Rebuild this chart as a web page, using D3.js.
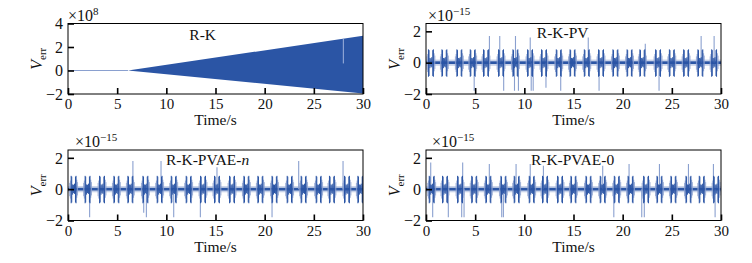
<!DOCTYPE html>
<html>
<head>
<meta charset="utf-8">
<script src="https://cdn.jsdelivr.net/npm/d3@7.9.0/dist/d3.min.js"></script>
<style>
  body { margin: 0; background: #fff; }
  svg text { font-family: 'Liberation Serif', 'Times New Roman', serif; fill: #111; }
</style>
</head>
<body>
<svg id="chart" width="752" height="263"></svg>
<script>
// ---- data ----
const timeTicks = [0, 5, 10, 15, 20, 25, 30];

// R-K: error grows as a dense oscillation; envelope only
const rkTimes = [0, 6.1, 30];
const rkUpper = [0, 0, 2.95];
const rkLower = [0, 0, -1.95];
const rkStreak = [28.0, 0.6, 2.7]; // time, low, high of the pale streak

// burst centres (s) for the three corrected methods
const pvBursts = [0.5, 1.87, 3.39, 4.75, 6.1, 7.63, 9.09, 10.58, 12.0, 13.5, 14.9, 16.35, 17.8, 19.26, 20.7, 22.0, 23.6, 25.0, 26.45, 27.9, 29.3];
const pvaenBursts = [0.57, 1.99, 3.46, 4.92, 6.34, 7.87, 9.32, 10.75, 12.27, 13.73, 15.15, 16.68, 18.14, 19.56, 21.0, 22.54, 23.96, 25.49, 26.84, 28.37, 29.73];
const pvae0Bursts = [0.58, 1.93, 3.46, 4.9, 6.34, 7.87, 9.22, 10.75, 12.1, 13.63, 14.99, 16.52, 17.97, 19.4, 20.8, 22.38, 23.74, 25.16, 26.69, 28.04, 29.5];

// isolated spikes [time, value]
const pvSpikes = [[4.9, -1.8], [6.45, 1.7], [7.5, 1.7], [7.9, -1.8], [9.0, -1.8], [9.1, 1.7], [9.4, -1.8], [10.6, 1.6], [10.7, -1.8], [10.9, -1.8], [12.2, -1.6], [13.7, -1.8], [16.5, 1.6], [17.6, -1.8], [22.3, 1.2], [23.7, -1.8], [27.98, 1.7], [29.3, 1.7]];
const pvaenSpikes = [[2.2, -1.8], [6.6, 1.8], [7.7, -1.5], [7.97, -1.8], [9.46, 1.8], [10.75, -1.8], [13.46, -1.8], [15.15, 1.4], [20.75, -1.8], [23.46, 1.8], [27.97, 1.8]];
const pvae0Spikes = [[0.48, 1.7], [0.68, -1.8], [2.27, -1.8], [3.63, -1.8], [3.73, 1.7], [3.87, -1.8], [6.44, 1.6], [7.7, -1.8], [7.87, -1.8], [9.16, 1.6], [10.6, 1.6], [11.94, 1.5], [17.97, 1.5], [19.1, -1.8], [20.65, 1.6], [21.94, -1.8], [22.2, -1.8], [23.74, 1.6], [26.69, 1.6], [29.23, 1.6], [29.4, -1.8]];

// shape of one burst: [offset s, low, high] – two dark bars with a little ringing between
const burstShape = [[-0.25, -0.9, 0.85], [-0.19, -0.85, 0.8], [-0.1, -0.35, 0.3], [0.0, -0.25, 0.28], [0.09, -0.3, 0.35], [0.19, -0.85, 0.8], [0.25, -0.9, 0.85]];
const fringeShape = [[-0.4, -0.45, 0.4], [-0.33, -0.6, 0.55], [0.33, -0.55, 0.6], [0.4, -0.4, 0.45]];
const noiseDark = 0.085;
const noiseLight = 0.2;

// ---- layout ----
const dark = '#2b55a5';
const pale = '#8aa0cf';

const panels = [
  { title: 'R-K', italic: null, left: 68, right: 363, top: 23.5, bottom: 94, yDomain: [-2, 4], yTicks: [-2, 0, 2, 4], exp: '8', expDx: 0, expY: 21, titleT: 13.7, titleY: 40 },
  { title: 'R-K-PV', italic: null, left: 426, right: 721, top: 23.5, bottom: 94, yDomain: [-2, 2.5], yTicks: [-2, 0, 2], exp: '−15', expDx: 2, expY: 21, titleT: 13.9, titleY: 38, bursts: pvBursts, spikes: pvSpikes },
  { title: 'R-K-PVAE-', italic: 'n', left: 68, right: 363, top: 150, bottom: 220.5, yDomain: [-2, 2.5], yTicks: [-2, 0, 2], exp: '−15', expDx: 7, expY: 147, titleT: 14.2, titleY: 165, bursts: pvaenBursts, spikes: pvaenSpikes },
  { title: 'R-K-PVAE-0', italic: null, left: 426, right: 721, top: 150, bottom: 220.5, yDomain: [-2, 2.5], yTicks: [-2, 0, 2], exp: '−15', expDx: 6, expY: 147, titleT: 14.9, titleY: 165, bursts: pvae0Bursts, spikes: pvae0Spikes },
];

const svg = d3.select('#chart');

panels.forEach((p, i) => {
  const x = d3.scaleLinear().domain([0, 30]).range([p.left, p.right]);
  const y = d3.scaleLinear().domain(p.yDomain).range([p.bottom, p.top]);
  const g = svg.append('g');

  g.append('clipPath').attr('id', 'clip' + i)
    .append('rect').attr('x', p.left).attr('y', p.top)
    .attr('width', p.right - p.left).attr('height', p.bottom - p.top);

  const plot = g.append('g').attr('clip-path', `url(#clip${i})`);

  if (i === 0) {
    const pts = rkTimes.map((t, k) => ({ t, hi: rkUpper[k], lo: rkLower[k] }));
    plot.append('line')
      .attr('x1', x(0)).attr('x2', x(rkTimes[1]))
      .attr('y1', y(0)).attr('y2', y(0))
      .attr('stroke', pale).attr('stroke-width', 1);
    plot.append('path')
      .datum(pts.slice(1))
      .attr('fill', dark)
      .attr('d', d3.area().x(d => x(d.t)).y0(d => y(d.lo)).y1(d => y(d.hi)));
    plot.append('line')
      .attr('x1', x(rkStreak[0])).attr('x2', x(rkStreak[0]))
      .attr('y1', y(rkStreak[1])).attr('y2', y(rkStreak[2]))
      .attr('stroke', '#9fb3dc').attr('stroke-width', 1);
  } else {
    // baseline noise band
    plot.append('rect')
      .attr('x', x(0)).attr('width', x(30) - x(0))
      .attr('y', y(noiseLight)).attr('height', y(-noiseLight) - y(noiseLight))
      .attr('fill', pale).attr('opacity', 0.45);
    plot.append('rect')
      .attr('x', x(0)).attr('width', x(30) - x(0))
      .attr('y', y(noiseDark)).attr('height', y(-noiseDark) - y(noiseDark))
      .attr('fill', dark);

    // spikes
    plot.selectAll('line.spike')
      .data(p.spikes)
      .join('line')
      .attr('class', 'spike')
      .attr('x1', d => x(d[0])).attr('x2', d => x(d[0]))
      .attr('y1', y(0)).attr('y2', d => y(d[1]))
      .attr('stroke', pale).attr('stroke-width', 1.1);

    // pale ringing around each burst
    const fringe = p.bursts.flatMap(b => fringeShape.map(s => ({ t: b + s[0], lo: s[1], hi: s[2] })));
    plot.selectAll('line.fringe')
      .data(fringe)
      .join('line')
      .attr('class', 'fringe')
      .attr('x1', d => x(d.t)).attr('x2', d => x(d.t))
      .attr('y1', d => y(d.lo)).attr('y2', d => y(d.hi))
      .attr('stroke', pale).attr('stroke-width', 0.8);

    // bursts
    const strokes = p.bursts.flatMap(b => burstShape.map(s => ({ t: b + s[0], lo: s[1], hi: s[2] })));
    plot.selectAll('line.burst')
      .data(strokes)
      .join('line')
      .attr('class', 'burst')
      .attr('x1', d => x(d.t)).attr('x2', d => x(d.t))
      .attr('y1', d => y(d.lo)).attr('y2', d => y(d.hi))
      .attr('stroke', dark).attr('stroke-width', 1);
  }

  // frame
  g.append('rect')
    .attr('x', p.left).attr('y', p.top)
    .attr('width', p.right - p.left).attr('height', p.bottom - p.top)
    .attr('fill', 'none').attr('stroke', '#000').attr('stroke-width', 1);

  // inward ticks
  g.append('g')
    .attr('transform', `translate(0,${p.bottom})`)
    .call(d3.axisBottom(x).tickValues(timeTicks).tickSize(-6).tickFormat(d => d))
    .call(a => a.select('.domain').remove())
    .call(a => a.selectAll('.tick line').attr('stroke', '#000').attr('stroke-width', 1.6))
    .call(a => a.selectAll('.tick text').attr('y', 15).attr('dy', 0).style('font-size', '15px'));

  g.append('g')
    .attr('transform', `translate(${p.left},0)`)
    .call(d3.axisLeft(y).tickValues(p.yTicks).tickSize(-6).tickFormat(d => d < 0 ? '−' + Math.abs(d) : d))
    .call(a => a.select('.domain').remove())
    .call(a => a.selectAll('.tick line').attr('stroke', '#000').attr('stroke-width', 1.6))
    .call(a => a.selectAll('.tick text').attr('x', -5).attr('dy', '0.33em').style('font-size', '16px'));

  // x label
  g.append('text')
    .attr('x', (p.left + p.right) / 2).attr('y', p.bottom + 31)
    .attr('text-anchor', 'middle').style('font-size', '15.5px')
    .text('Time/s');

  // y label
  const yl = g.append('text')
    .attr('transform', `translate(${p.left - 26},${(p.top + p.bottom) / 2}) rotate(-90)`)
    .attr('text-anchor', 'middle').style('font-size', '16px');
  yl.append('tspan').attr('font-style', 'italic').text('V');
  yl.append('tspan').attr('dy', 4).style('font-size', '11px').text('err');

  // exponent
  const ex = g.append('text')
    .attr('x', p.left + p.expDx).attr('y', p.expY)
    .style('font-size', '16px');
  ex.append('tspan').text('×10');
  ex.append('tspan').attr('dy', -6).style('font-size', '11px').text(p.exp);

  // title
  const tt = g.append('text')
    .attr('x', x(p.titleT)).attr('y', p.titleY)
    .attr('text-anchor', 'middle').style('font-size', '15.5px');
  tt.append('tspan').text(p.title);
  if (p.italic) tt.append('tspan').attr('font-style', 'italic').text(p.italic);
});
</script>
</body>
</html>
